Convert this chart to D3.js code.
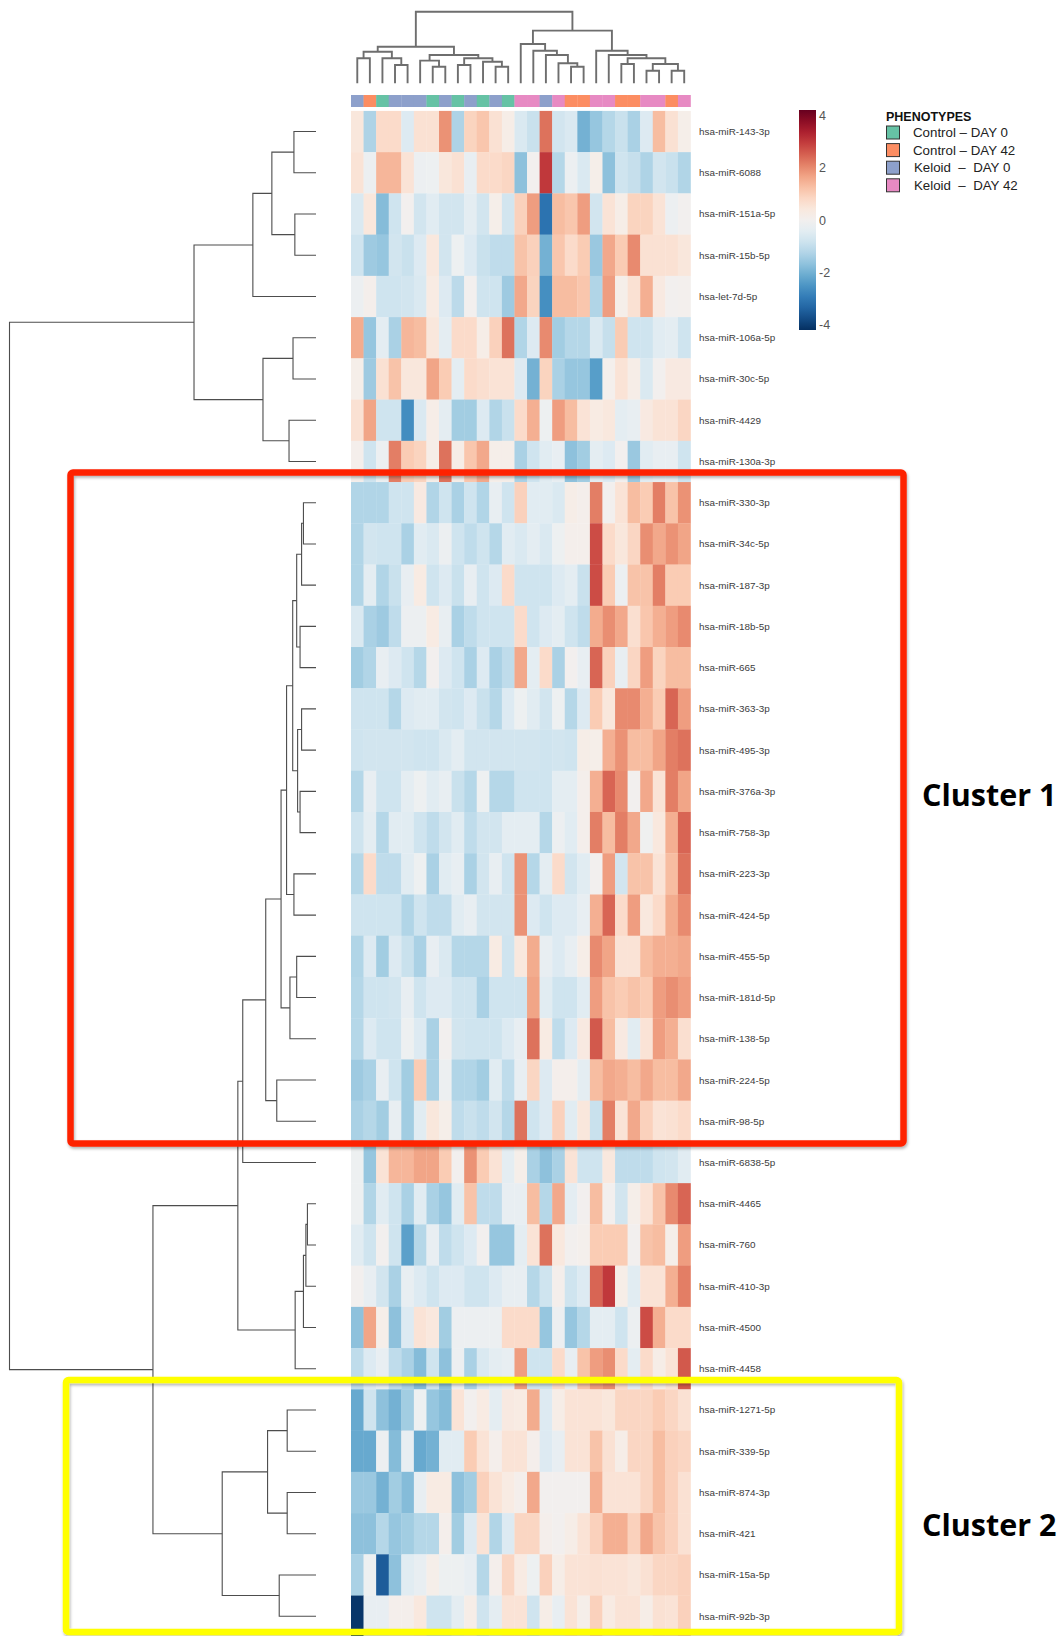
<!DOCTYPE html>
<html>
<head>
<meta charset="utf-8">
<script src="https://cdn.jsdelivr.net/npm/d3@7"></script>
<style>
  body { margin: 0; background: #fff; }
  svg { display: block; }
</style>
</head>
<body>
<div id="chart"></div>
<script>
const WIDTH = 1061;
const HEIGHT = 1636;

// rows, top to bottom (dendrogram order)
const mirnas = [
  'hsa-miR-143-3p', 'hsa-miR-6088', 'hsa-miR-151a-5p', 'hsa-miR-15b-5p', 'hsa-let-7d-5p',
  'hsa-miR-106a-5p', 'hsa-miR-30c-5p', 'hsa-miR-4429', 'hsa-miR-130a-3p', 'hsa-miR-330-3p',
  'hsa-miR-34c-5p', 'hsa-miR-187-3p', 'hsa-miR-18b-5p', 'hsa-miR-665', 'hsa-miR-363-3p',
  'hsa-miR-495-3p', 'hsa-miR-376a-3p', 'hsa-miR-758-3p', 'hsa-miR-223-3p', 'hsa-miR-424-5p',
  'hsa-miR-455-5p', 'hsa-miR-181d-5p', 'hsa-miR-138-5p', 'hsa-miR-224-5p', 'hsa-miR-98-5p',
  'hsa-miR-6838-5p', 'hsa-miR-4465', 'hsa-miR-760', 'hsa-miR-410-3p', 'hsa-miR-4500',
  'hsa-miR-4458', 'hsa-miR-1271-5p', 'hsa-miR-339-5p', 'hsa-miR-874-3p', 'hsa-miR-421',
  'hsa-miR-15a-5p', 'hsa-miR-92b-3p'
];

const phenotypes = ['Control \u2013 DAY 0', 'Control \u2013 DAY 42', 'Keloid  \u2013  DAY 0', 'Keloid  \u2013  DAY 42'];
const phenoColours = ['#66c2a5', '#fc8d62', '#8da0cb', '#e78ac3'];

// phenotype of each of the 27 samples, left to right
const samplePheno = [2, 1, 0, 2, 2, 2, 0, 2, 0, 2, 0, 2, 0, 3, 3, 2, 3, 1, 1, 3, 3, 1, 1, 3, 3, 1, 3];

// z-scores, one line per miRNA, 27 samples each
const zscores = [
  [0.45,-1.3,0.75,0.75,-0.55,0.6,0.6,1.9,-1.3,0.9,1.15,0.6,0.2,-0.6,-0.9,2.3,-0.75,-0.6,-2.0,-1.6,-1.2,-0.9,-1.35,-0.55,1.3,0.6,0.15],
  [0.55,-0.2,1.4,1.4,0.55,-0.2,-0.15,0.45,0.6,-0.3,0.75,0.75,0.85,-1.7,0,3.0,-1.2,-0.2,-0.6,0.15,-1.7,-0.8,-0.95,-1.3,-0.75,-0.9,-1.25],
  [-0.6,0.45,-1.8,-0.8,0,-0.75,-0.45,-0.75,-0.75,-0.4,-0.75,0.15,-0.75,0.95,1.75,-3.1,1.3,1.15,1.75,-0.75,0.55,0.2,0.9,0.9,0.55,-0.2,0],
  [-0.8,-1.5,-1.6,-0.75,-0.9,-0.55,0.4,-0.75,-0.15,-0.55,-0.9,-1.05,-1.05,1.2,0.95,-2.0,1.15,0.75,1.05,-1.55,1.6,1.05,2.0,0.6,0.6,0.6,0.45],
  [-0.2,0.1,-0.8,-0.8,-0.75,-0.6,0.3,-0.55,-1.1,0,-0.8,-0.8,-1.5,1.6,0.9,-2.6,1.3,1.3,1.15,-1.25,1.75,0.15,0.6,1.5,0.35,0,0.05],
  [1.55,-1.6,-0.4,-1.35,1.4,1.3,0.45,-0.4,0.75,0.75,0.2,0.95,2.3,-1.25,-0.55,2.0,-1.45,-1.2,-1.2,-0.6,-0.95,1.05,-0.8,-0.8,-0.45,-0.4,-0.8],
  [0.15,-1.5,0.6,1.2,0.45,0.45,1.65,1.05,-0.4,0.75,0.65,0.55,0.55,-0.55,-2.0,0.9,-1.35,-1.6,-1.6,-2.35,0.08,0.55,0.2,-0.6,0,0.35,0.35],
  [0.6,1.65,-0.8,-0.8,-2.65,-0.6,0.2,-0.4,-1.45,-1.45,-0.55,-1.25,-0.9,0.75,1.5,-0.15,1.75,1.3,0.55,0.3,0.4,-0.4,-0.3,0.35,0.55,0.55,0.85],
  [0.1,-0.8,-0.2,2.15,1.05,0.9,0.2,2.3,0.2,1.15,1.6,0.15,0.15,-1.35,-0.8,-0.45,-0.3,-1.7,-1.45,-0.4,-0.55,0,-1.55,-0.45,-0.3,-0.3,-0.8],
  [-1.25,-1.25,-1.25,-0.8,-0.8,0.35,-1.25,-0.8,-1.35,-0.8,-1.25,-0.3,-0.8,0.95,-0.45,-0.45,-0.6,0.2,0.1,2.15,0,0.55,1.3,1.05,2.15,1.2,1.9],
  [-1.25,-0.75,-0.8,-0.8,-1.35,-0.45,-0.6,-0.2,-0.8,-1.05,-0.8,-1.2,-0.45,-0.6,-0.4,-0.6,-0.15,0.1,0.1,2.75,0.75,0.45,0.85,1.95,1.6,1.9,1.65],
  [-1.25,-0.4,-1.25,-0.9,-0.3,0.3,-0.8,-0.55,-0.9,-0.3,-0.8,-0.55,0.75,-0.8,-0.8,-0.8,-0.55,-0.4,-0.9,2.75,1.05,-0.2,1.2,1.2,2.15,1.05,1.05],
  [-0.6,-1.35,-1.5,-1.05,-0.2,-0.2,0.3,-0.3,-1.35,-1.05,-0.8,-0.8,-0.8,0.75,-0.8,-0.55,-0.4,-0.8,-1.05,1.55,1.95,1.6,0.65,1.15,1.5,1.75,2.0],
  [-1.45,-1.25,-0.3,-0.55,-0.8,-1.2,0,-0.55,-0.8,-1.35,-0.55,-1.35,-1.05,1.6,-0.4,0.75,-1.35,0,-0.3,2.45,0.95,-0.3,0.85,1.75,0.9,1.3,1.3],
  [-0.8,-0.8,-0.8,-1.2,-0.55,-0.45,-0.45,-0.75,-0.8,-0.55,-0.9,-1.2,-0.55,-0.15,-0.45,-0.75,-0.15,-1.2,-0.55,1.05,0.45,2.0,2.0,1.5,1.05,2.45,1.75],
  [-0.8,-0.75,-0.75,-0.75,-0.75,-0.8,-0.8,-0.6,-0.4,-0.75,-0.75,-0.75,-0.75,-0.75,-0.75,-0.8,-0.75,-0.8,0.2,0.15,1.5,1.9,1.3,1.3,1.65,2.15,2.3],
  [-1.2,-0.3,-0.8,-0.8,-0.4,-0.15,-0.45,-0.3,-0.9,-1.2,-0.15,-1.2,-1.2,-0.8,-0.8,-0.8,-0.4,-0.4,0.1,1.5,2.45,2.0,0,1.6,0.55,2.15,1.65],
  [-0.8,-0.4,-1.2,-0.45,-0.45,-0.8,-1.05,-0.75,-0.45,-1.05,-0.75,-0.75,-0.4,-0.4,-0.4,-1.2,-0.2,-0.45,0.1,2.15,1.3,2.15,1.6,-0.1,0.4,1.5,2.45],
  [-1.2,0.75,-1.05,-1.05,-0.45,-0.15,-1.35,-0.45,-0.3,-1.35,-0.75,-0.3,-0.8,1.9,-1.2,-0.4,0.75,-0.75,-0.45,0,1.75,-0.75,1.2,1.2,0.55,1.3,2.3],
  [-0.8,-0.8,-0.8,-0.8,-1.25,-0.8,-1.05,-1.05,-0.45,-0.3,-0.75,-0.75,-0.75,1.9,-0.55,-0.8,-0.55,-0.55,-0.3,1.5,2.45,0.75,1.75,0.4,0.75,1.55,2.0],
  [-1.25,-0.55,-1.45,-0.55,-0.9,-1.35,-0.3,-0.6,-1.2,-1.2,-1.2,0.3,-0.8,0.4,1.55,-0.3,-0.55,-0.3,0.2,2.0,1.65,0.55,0.55,1.3,1.5,1.5,1.6],
  [-1.2,-0.8,-0.8,-0.75,-0.3,-0.8,-0.55,-0.55,-0.8,-0.8,-1.35,-0.8,-0.8,-0.8,1.65,-0.45,-0.8,-0.8,-0.45,1.75,1.2,1.05,1.2,1.05,1.75,1.95,1.75],
  [-1.2,-0.55,-0.8,-0.8,-0.15,-0.55,-1.35,0,-0.75,-0.8,-0.8,-0.8,-0.55,-0.3,2.3,0.3,-1.05,-0.55,0.35,2.6,1.3,0.35,-0.45,0.55,1.75,1.5,0.65],
  [-1.5,-1.35,-0.3,-0.8,-1.45,1.05,-1.35,-0.2,-1.25,-1.25,-1.45,-0.45,-1.05,-0.3,0.85,-0.55,0.1,0.1,-0.4,1.3,1.6,1.5,1.3,1.6,1.3,1.3,1.6],
  [-1.35,-1.2,-1.45,-0.3,-1.45,-0.45,0.45,0.15,-1.05,-0.9,-1.05,-0.75,-1.2,2.3,-0.8,-0.55,0.95,-0.45,0.45,-0.9,2.15,0.55,1.6,0.95,0.55,0.6,0.75],
  [-0.15,-1.6,0.55,1.4,1.4,1.65,1.65,1.05,0,1.9,1.05,0.55,-0.4,0.15,-1.35,-1.7,-1.35,0.55,-0.8,-0.8,0.4,-1.05,-1.05,-1.05,-0.8,-0.75,-0.45],
  [-0.15,-1.25,-0.45,-0.8,-1.35,-0.45,-1.35,-1.6,-0.45,1.2,-1.05,-1.05,-0.3,-0.3,1.3,-1.2,1.6,-0.4,0,1.3,0,-0.75,0.15,0.55,1.2,2.0,2.45],
  [-0.45,-0.8,0,-0.8,-2.3,-1.2,-0.3,-1.05,-0.8,-0.55,0,-1.6,-1.6,-0.4,0.55,2.3,0.4,0,0.08,1.05,1.05,1.05,0,1.2,1.3,0.15,1.75],
  [0,-0.3,-0.75,-1.35,-0.3,-0.55,-0.8,-0.55,-0.55,-0.8,-0.8,-0.55,-0.3,-0.3,-1.2,-0.8,0.1,-0.8,-0.55,2.45,3.0,0.2,-0.45,0.55,0.55,1.5,2.15],
  [-1.7,1.65,0.15,-1.7,-0.55,0.55,0.4,-1.45,-0.2,-0.2,-0.2,-0.2,0.75,0.75,0.75,-1.6,-0.2,-1.6,-1.2,-0.4,-0.4,-0.8,-0.2,2.75,1.5,0.75,0.75],
  [-1.05,-0.55,-0.3,-1.05,-1.35,-1.8,-0.8,-1.7,-0.2,-1.35,-0.6,-0.4,-0.3,1.75,-0.8,-0.8,0.75,-0.3,1.2,1.75,1.95,0.75,-0.4,0.75,0.2,0.55,2.6],
  [-2.15,-0.8,-1.7,-2.0,-1.45,-0.15,-1.6,-1.8,0.55,0,0.3,-0.4,0.35,0.3,1.55,-0.55,0.2,0.55,0.55,0.55,0.45,0.85,0.85,0.85,1.05,0.85,0.6],
  [-2.15,-2.15,-0.2,-1.8,-0.3,-2.15,-2.0,-0.45,-0.45,1.05,0.55,0.1,0.55,0.55,0.1,-0.55,-0.3,0.55,0.55,1.2,0.6,0.2,0.85,0.85,1.3,0.95,0.85],
  [-1.55,-1.55,-2.0,-1.45,-1.8,-0.3,0.3,0.3,-1.7,-1.45,0.95,0.55,0.3,0.1,1.6,0,0,0,0,1.5,0.55,0.55,0.55,0.85,1.3,0.95,0.6],
  [-1.7,-1.7,-1.2,-1.6,-1.45,-1.2,-1.2,0.1,-1.45,-0.55,0.55,-1.25,-0.55,0.85,0.85,0.1,0,0.2,0.55,0.95,1.5,1.5,0.95,1.6,1.2,0.95,0.6],
  [-1.35,-0.15,-3.5,-1.7,-0.45,-0.3,0.15,-0.15,-0.15,-0.3,-1.2,0.1,0.85,0.3,-0.15,0.95,0.2,0.55,0.55,0.6,0.55,0.55,0.45,0.6,0.85,0.85,0.95],
  [-4.1,-0.3,-0.3,0.1,0.1,0.4,-0.8,-0.8,-0.4,0.2,-0.8,-0.4,0.55,0.55,-0.8,0.2,-0.3,0.55,0.15,0.95,0.3,0.55,0.55,0.2,0.6,0.55,0.95]
];

// dendrograms as [height, left, right]; a plain number is a leaf index
const rowTree = [10,
  [3.98,
    [2.06, [1.44, [0.72, 0, 1], [0.69, 2, 3]], 4],
    [1.73, [0.75, 5, 6], [0.88, 7, 8]]],
  [5.32,
    [2.55,
      [2.39,
        [1.64,
          [1.14,
            [0.96,
              [0.76,
                [0.63, [0.47, [0.41, 9, 10], 11], [0.52, 12, 13]],
                [0.60, [0.47, 14, 15], [0.52, 16, 17]]],
              [0.72, 18, 19]],
            [0.85, [0.63, 20, 21], 22]],
          [1.28, 23, 24]],
        25],
      [0.68, [0.41, [0.33, [0.28, 26, 27], 28], 29], 30]],
    [3.06,
      [1.58, [0.94, 31, 32], [0.94, 33, 34]],
      [1.20, 35, 36]]]
];

const colTree = [10,
  [5.11,
    [4.41, [3.49, 0, 1], [3.49, 2, [2.56, 3, 4]]],
    [3.95,
      [3.16, 5, [2.32, 6, 7]],
      [3.49, [2.56, 8, 9], [3.02, 10, [2.32, 11, 12]]]]],
  [7.35,
    [5.49, 13, [4.55, 14, [3.95, 15, [2.79, 16, [2.32, 17, 18]]]]],
    [4.55, 19, [3.95, 20, [3.49, [2.70, 21, 22], [2.70, [1.76, 23, 24], [1.76, 25, 26]]]]]]
];

const colourTicks = [-4, -2, 0, 2, 4];
const clusters = [
  { name: 'Cluster 1', colour: '#fe2200' },
  { name: 'Cluster 2', colour: '#ffff00' }
];

const svg = d3.select('#chart')
  .append('svg')
    .attr('width', WIDTH)
    .attr('height', HEIGHT)
    .style('background', '#fff');

const defs = svg.append('defs');
const shadow = defs.append('filter').attr('id', 'shadow')
  .attr('x', '-5%').attr('y', '-5%').attr('width', '110%').attr('height', '110%');
shadow.append('feDropShadow')
  .attr('dx', 1).attr('dy', 2).attr('stdDeviation', 1.5)
  .attr('flood-color', '#000').attr('flood-opacity', 0.3);

// scales
const x = d3.scaleBand().domain(d3.range(samplePheno.length)).range([351, 690.5]);
const y = d3.scaleBand().domain(mirnas).range([110.9, 1636.8]);
const colour = d3.scaleDiverging(d3.interpolateRdBu).domain([4.2, 0, -4.2]);
const rowH = d3.scaleLinear().domain([0, 10]).range([316, 9.5]);
const colH = d3.scaleLinear().domain([0, 10]).range([83.3, 11.7]);

// heatmap cells
const rows = svg.append('g').attr('class', 'cells')
  .selectAll('g')
  .data(zscores)
  .enter().append('g')
    .attr('transform', (d, i) => `translate(0, ${y(mirnas[i])})`);

rows.selectAll('rect')
  .data(d => d)
  .enter().append('rect')
    .attr('x', (d, j) => x(j))
    .attr('y', 0)
    .attr('width', x.bandwidth() + 0.3)
    .attr('height', y.bandwidth() + 0.3)
    .attr('fill', d => colour(d));

// phenotype bar
svg.append('g')
  .selectAll('rect')
  .data(samplePheno)
  .enter().append('rect')
    .attr('x', (d, j) => x(j))
    .attr('y', 95)
    .attr('width', x.bandwidth() + 0.3)
    .attr('height', 12)
    .attr('fill', d => phenoColours[d]);

// row labels
svg.append('g')
  .selectAll('text')
  .data(mirnas)
  .enter().append('text')
    .attr('x', 699)
    .attr('y', d => y(d) + y.bandwidth() / 2)
    .attr('dy', '0.35em')
    .style('font-family', '"Liberation Sans", Arial, sans-serif')
    .style('font-size', '9.9px')
    .style('fill', '#3c3c3c')
    .text(d => d);

// dendrograms
function walk(node, pos, segs) {
  if (typeof node === 'number') return { p: pos(node), h: 0 };
  const a = walk(node[1], pos, segs);
  const b = walk(node[2], pos, segs);
  segs.push({ h: node[0], a: a, b: b });
  return { p: (a.p + b.p) / 2, h: node[0] };
}

const rowSegs = [];
walk(rowTree, i => y(mirnas[i]) + y.bandwidth() / 2, rowSegs);
svg.append('g')
  .selectAll('path')
  .data(rowSegs)
  .enter().append('path')
    .attr('d', s => `M${rowH(s.a.h)},${s.a.p}H${rowH(s.h)}V${s.b.p}H${rowH(s.b.h)}`)
    .attr('fill', 'none')
    .attr('stroke', '#4d4d4d')
    .attr('stroke-width', 1.1);

const colSegs = [];
walk(colTree, j => x(j) + x.bandwidth() / 2, colSegs);
svg.append('g')
  .selectAll('path')
  .data(colSegs)
  .enter().append('path')
    .attr('d', s => `M${s.a.p},${colH(s.a.h)}V${colH(s.h)}H${s.b.p}V${colH(s.b.h)}`)
    .attr('fill', 'none')
    .attr('stroke', '#6e6e6e')
    .attr('stroke-width', 1.9);

// colour key
const keyY = d3.scaleLinear().domain([4.2, -4.2]).range([110, 330]);
const grad = defs.append('linearGradient').attr('id', 'key')
  .attr('x1', 0).attr('y1', 0).attr('x2', 0).attr('y2', 1);
grad.selectAll('stop')
  .data(d3.range(0, 1.0001, 0.05))
  .enter().append('stop')
    .attr('offset', t => t)
    .attr('stop-color', t => colour(keyY.invert(110 + t * 220)));

svg.append('rect')
  .attr('x', 799).attr('y', 110)
  .attr('width', 17).attr('height', 220)
  .attr('fill', 'url(#key)');

const keyAxis = svg.append('g')
  .attr('transform', 'translate(816,0)')
  .call(d3.axisRight(keyY).tickValues(colourTicks).tickSize(0).tickPadding(3)
    .tickFormat(d => String(d)));
keyAxis.select('.domain').remove();
keyAxis.selectAll('text')
  .style('font-family', '"Liberation Sans", Arial, sans-serif')
  .style('font-size', '12.5px')
  .style('fill', '#555');

// phenotype legend
const legend = svg.append('g').attr('transform', 'translate(886,0)');
legend.append('text')
  .attr('x', 0).attr('y', 121)
  .style('font-family', '"Liberation Sans", Arial, sans-serif')
  .style('font-size', '12.5px')
  .style('font-weight', 'bold')
  .style('fill', '#111')
  .text('PHENOTYPES');

const items = legend.selectAll('g.item')
  .data(phenotypes)
  .enter().append('g')
    .attr('class', 'item')
    .attr('transform', (d, i) => `translate(0, ${132.5 + i * 17.6})`);
items.append('rect')
  .attr('x', 0.5).attr('y', -6.5)
  .attr('width', 13).attr('height', 13)
  .attr('fill', (d, i) => phenoColours[i])
  .attr('stroke', '#333')
  .attr('stroke-width', 1);
items.append('text')
  .attr('x', (d, i) => i < 2 ? 27 : 28)
  .attr('y', 0)
  .attr('dy', '0.36em')
  .style('font-family', '"Liberation Sans", Arial, sans-serif')
  .style('font-size', '13.3px')
  .style('fill', '#222')
  .style('white-space', 'pre')
  .text(d => d);

// cluster boxes
const boxes = [
  { c: clusters[0], x0: 70.5, x1: 903.5, y0: 472.5, y1: 1143.5, ty: 806 },
  { c: clusters[1], x0: 66, x1: 899, y0: 1380, y1: 1632, ty: 1536 }
];
boxes.forEach(b => {
  svg.append('rect')
    .attr('x', b.x0).attr('y', b.y0)
    .attr('width', b.x1 - b.x0).attr('height', b.y1 - b.y0)
    .attr('rx', 2.5)
    .attr('fill', 'none')
    .attr('stroke', b.c.colour)
    .attr('stroke-width', 6.5)
    .attr('filter', 'url(#shadow)');
  svg.append('text')
    .attr('x', 922).attr('y', b.ty)
    .style('font-family', '"Open Sans", Lato, sans-serif')
    .style('font-size', '30.5px')
    .style('font-weight', 'bold')
    .style('fill', '#000')
    .text(b.c.name);
});
</script>
</body>
</html>
